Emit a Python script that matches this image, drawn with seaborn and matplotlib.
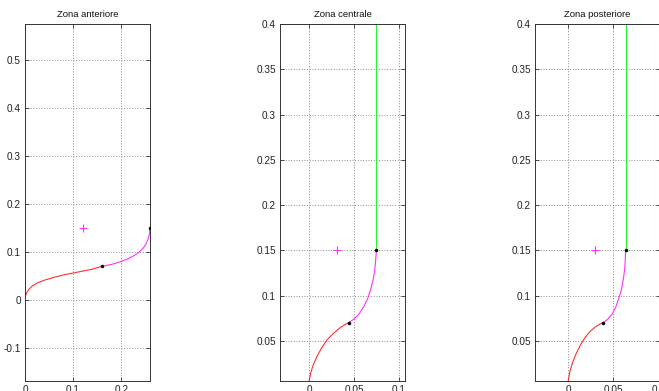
import matplotlib
matplotlib.use("Agg")
import matplotlib.pyplot as plt
import seaborn as sns

# --- Zona anteriore ---
ant_red_x = [0.0, 0.003, 0.008, 0.015, 0.025, 0.04, 0.06, 0.08, 0.10, 0.12, 0.14, 0.16]
ant_red_y = [0.005, 0.014, 0.022, 0.029, 0.035, 0.041, 0.047, 0.052, 0.056, 0.060, 0.064, 0.070]
ant_mag_x = [0.16, 0.18, 0.20, 0.215, 0.228, 0.238, 0.246, 0.252, 0.256, 0.259, 0.26]
ant_mag_y = [0.070, 0.074, 0.080, 0.086, 0.093, 0.100, 0.108, 0.117, 0.127, 0.138, 0.150]
ant_dots_x = [0.16, 0.26]
ant_dots_y = [0.07, 0.15]
ant_plus = (0.12, 0.15)

# --- Zona centrale ---
cen_red_x = [0.0, 0.002, 0.005, 0.009, 0.014, 0.020, 0.027, 0.034, 0.040, 0.044]
cen_red_y = [0.005, 0.015, 0.024, 0.033, 0.042, 0.051, 0.058, 0.064, 0.068, 0.070]
cen_mag_x = [0.044, 0.050, 0.056, 0.061, 0.065, 0.068, 0.071, 0.073, 0.074, 0.075]
cen_mag_y = [0.070, 0.074, 0.080, 0.088, 0.096, 0.105, 0.116, 0.127, 0.138, 0.150]
cen_green_x = [0.075, 0.075]
cen_green_y = [0.15, 0.5]
cen_dots_x = [0.044, 0.075]
cen_dots_y = [0.07, 0.15]
cen_plus = (0.031, 0.15)

# --- Zona posteriore ---
pos_red_x = [0.0, 0.002, 0.005, 0.009, 0.014, 0.019, 0.025, 0.031, 0.036, 0.039]
pos_red_y = [0.005, 0.016, 0.026, 0.036, 0.046, 0.054, 0.061, 0.066, 0.069, 0.070]
pos_mag_x = [0.039, 0.044, 0.049, 0.053, 0.056, 0.059, 0.061, 0.0625, 0.0632, 0.0635]
pos_mag_y = [0.070, 0.074, 0.080, 0.088, 0.097, 0.107, 0.118, 0.129, 0.140, 0.150]
pos_green_x = [0.0635, 0.0635]
pos_green_y = [0.15, 0.5]
pos_dots_x = [0.039, 0.0635]
pos_dots_y = [0.07, 0.15]
pos_plus = (0.030, 0.15)

titles = ["Zona anteriore", "Zona centrale", "Zona posteriore"]
xticks = [[0, 0.1, 0.2], [0, 0.05, 0.1], [0, 0.05, 0.1]]
xtick_labels = [["0", "0.1", "0.2"], ["0", "0.05", "0.1"], ["0", "0.05", "0.1"]]
yticks = [[-0.1, 0, 0.1, 0.2, 0.3, 0.4, 0.5],
          [0.05, 0.1, 0.15, 0.2, 0.25, 0.3, 0.35, 0.4],
          [0.05, 0.1, 0.15, 0.2, 0.25, 0.3, 0.35, 0.4]]
ytick_labels = [["-0.1", "0", "0.1", "0.2", "0.3", "0.4", "0.5"],
                ["0.05", "0.1", "0.15", "0.2", "0.25", "0.3", "0.35", "0.4"],
                ["0.05", "0.1", "0.15", "0.2", "0.25", "0.3", "0.35", "0.4"]]

sns.set_style("white")
plt.rcParams["font.family"] = ["Liberation Sans", "DejaVu Sans"]

W, H = 659, 391
fig = plt.figure(figsize=(W / 100, H / 100), dpi=100)

# axes boxes in pixels: (left, right, top, bottom) and data limits
boxes = [(25, 150, 24, 381), (280, 405, 24, 381), (535, 660, 24, 381)]
xlims = [(0.0, 0.26), (-0.0322, 0.1067), (-0.0365, 0.1015)]
ylims = [(-0.169, 0.575), (0.0056, 0.4), (0.0056, 0.4)]

panels = [
    (ant_red_x, ant_red_y, ant_mag_x, ant_mag_y, None, None, ant_dots_x, ant_dots_y, ant_plus),
    (cen_red_x, cen_red_y, cen_mag_x, cen_mag_y, cen_green_x, cen_green_y, cen_dots_x, cen_dots_y, cen_plus),
    (pos_red_x, pos_red_y, pos_mag_x, pos_mag_y, pos_green_x, pos_green_y, pos_dots_x, pos_dots_y, pos_plus),
]

for i, (rx, ry, mx, my, gx, gy, dx, dy, plus) in enumerate(panels):
    l, r, t, b = boxes[i]
    ax = fig.add_axes([l / W, (H - b) / H, (r - l) / W, (b - t) / H])
    ax.set_xlim(*xlims[i])
    ax.set_ylim(*ylims[i])

    sns.lineplot(x=rx, y=ry, sort=False, estimator=None, color="#ff3030", lw=0.8, ax=ax)
    sns.lineplot(x=mx, y=my, sort=False, estimator=None, color="#ff30ff", lw=0.8, ax=ax)
    if gx is not None:
        sns.lineplot(x=gx, y=gy, sort=False, estimator=None, color="#30ee30", lw=0.9, ax=ax)
    sns.scatterplot(x=dx, y=dy, color="black", marker="o", s=5, edgecolor="black",
                    linewidth=0.3, ax=ax, zorder=5)
    sns.scatterplot(x=[plus[0]], y=[plus[1]], color="#ff30ff", marker="+", s=30,
                    linewidth=0.8, ax=ax, zorder=5)

    ax.set_xticks(xticks[i])
    ax.set_xticklabels(xtick_labels[i])
    ax.set_yticks(yticks[i])
    ax.set_yticklabels(ytick_labels[i])
    ax.tick_params(direction="in", length=3, width=0.6, color="#333333",
                   labelsize=7.2, labelcolor="#222222", top=True, right=True,
                   bottom=True, left=True, pad=3)
    ax.grid(True, linestyle=(0, (1, 2.2)), color="#666666", linewidth=0.6)
    for s in ax.spines.values():
        s.set_color("#333333")
        s.set_linewidth(0.7)
    ax.set_title(titles[i], fontsize=6.8, color="#111111", pad=5)
    ax.set_xlabel("")
    ax.set_ylabel("")

fig.savefig("out.png", dpi=100)
